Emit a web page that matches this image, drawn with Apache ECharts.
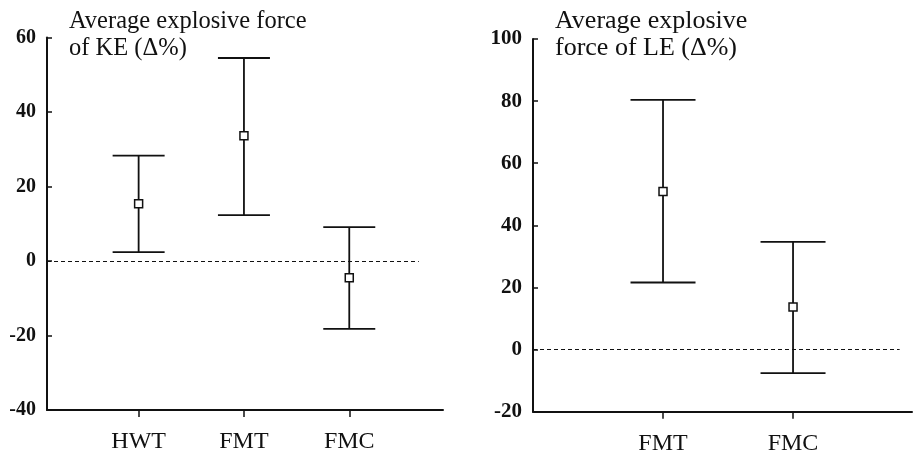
<!DOCTYPE html>
<html>
<head>
<meta charset="utf-8">
<script src="https://cdn.jsdelivr.net/npm/echarts@6/dist/echarts.min.js"></script>
<style>
  html, body { margin: 0; padding: 0; background: #fff; }
  #chart { width: 913px; height: 457px; }
</style>
</head>
<body>
<div id="chart"></div>
<script>
// Knee extensors (KE): change in average explosive force, mean with range
const groupsKE = ['HWT', 'FMT', 'FMC'];
const positionsKE = [1, 2, 3];
const meanKE = [15.4, 33.6, -4.5];
const lowKE = [2.4, 12.3, -18.2];
const highKE = [28.3, 54.5, 9.1];
const yTicksKE = [-40, -20, 0, 20, 40, 60];

// Leg extensors (LE)
const groupsLE = ['FMT', 'FMC'];
const positionsLE = [1, 2];
const meanLE = [50.9, 13.7];
const lowLE = [21.6, -7.6];
const highLE = [80.4, 34.7];
const yTicksLE = [-20, 0, 20, 40, 60, 80, 100];

const FONT = '"Liberation Serif", "DejaVu Serif", serif';
const INK = '#111';

function errorBars(positions, low, high) {
  return positions.map((p, i) => [p, low[i], high[i]]);
}
function means(positions, vals) {
  return positions.map((p, i) => [p, vals[i]]);
}

function errorBarRenderer(capHalf) {
  return function (params, api) {
    const x = api.value(0);
    const lo = api.coord([x, api.value(1)]);
    const hi = api.coord([x, api.value(2)]);
    const style = { stroke: INK, lineWidth: 1.8 };
    return {
      type: 'group',
      children: [
        { type: 'line', shape: { x1: lo[0], y1: lo[1], x2: hi[0], y2: hi[1] }, style },
        { type: 'line', shape: { x1: hi[0] - capHalf, y1: hi[1], x2: hi[0] + capHalf, y2: hi[1] }, style },
        { type: 'line', shape: { x1: lo[0] - capHalf, y1: lo[1], x2: lo[0] + capHalf, y2: lo[1] }, style }
      ]
    };
  };
}

function xAxis(gridIndex, min, max, ticks, names) {
  return {
    type: 'value', gridIndex, min, max,
    splitLine: { show: false },
    axisLine: { show: true, onZero: false, lineStyle: { color: INK, width: 2 } },
    axisTick: { show: true, inside: false, length: 7, customValues: ticks, lineStyle: { color: INK, width: 1.5 } },
    axisLabel: {
      customValues: ticks, margin: 20,
      color: INK, fontFamily: FONT, fontSize: 24,
      formatter: v => names[ticks.indexOf(v)] || ''
    }
  };
}

function yAxis(gridIndex, ticks, fontSize) {
  return {
    type: 'value', gridIndex,
    min: ticks[0], max: ticks[ticks.length - 1], interval: 20,
    splitLine: { show: false },
    axisLine: { show: true, lineStyle: { color: INK, width: 2 } },
    axisTick: { show: true, inside: true, length: 5, lineStyle: { color: INK, width: 1.5 } },
    axisLabel: { margin: 11, color: INK, fontFamily: FONT, fontSize, fontWeight: 'bold' }
  };
}

const chart = echarts.init(document.getElementById('chart'), null, { renderer: 'canvas' });

const xMinKE = 0.13, xMaxKE = 3.89, zeroEndKE = 3.66;
const xMinLE = 0, xMaxLE = 2.915, zeroEndLE = 2.82;

chart.setOption({
  animation: false,
  backgroundColor: '#fff',
  title: [
    {
      text: 'Average explosive force\nof KE (Δ%)',
      left: 69, top: 8, padding: 0,
      textStyle: { fontFamily: FONT, fontSize: 24.5, fontWeight: 'normal', color: INK, lineHeight: 27 }
    },
    {
      text: 'Average explosive\nforce of LE (Δ%)',
      left: 555, top: 8, padding: 0,
      textStyle: { fontFamily: FONT, fontSize: 26, fontWeight: 'normal', color: INK, lineHeight: 27 }
    }
  ],
  grid: [
    { left: 47, top: 37.5, width: 396, height: 372.5 },
    { left: 533, top: 39, width: 379, height: 372.7 }
  ],
  xAxis: [
    xAxis(0, xMinKE, xMaxKE, positionsKE, groupsKE),
    xAxis(1, xMinLE, xMaxLE, positionsLE, groupsLE)
  ],
  yAxis: [
    yAxis(0, yTicksKE, 20),
    yAxis(1, yTicksLE, 21)
  ],
  series: [
    {
      type: 'custom', xAxisIndex: 0, yAxisIndex: 0,
      renderItem: errorBarRenderer(26),
      data: errorBars(positionsKE, lowKE, highKE),
      markLine: {
        silent: true, symbol: 'none', label: { show: false },
        lineStyle: { color: INK, width: 1.2, type: [4, 3] },
        data: [[{ coord: [xMinKE, 0] }, { coord: [zeroEndKE, 0] }]]
      },
      z: 2
    },
    {
      type: 'scatter', xAxisIndex: 0, yAxisIndex: 0,
      symbol: 'rect', symbolSize: 8,
      itemStyle: { color: '#fff', borderColor: INK, borderWidth: 1.5, opacity: 1 },
      data: means(positionsKE, meanKE),
      z: 3
    },
    {
      type: 'custom', xAxisIndex: 1, yAxisIndex: 1,
      renderItem: errorBarRenderer(32.5),
      data: errorBars(positionsLE, lowLE, highLE),
      markLine: {
        silent: true, symbol: 'none', label: { show: false },
        lineStyle: { color: INK, width: 1.2, type: [4, 3] },
        data: [[{ coord: [xMinLE, 0] }, { coord: [zeroEndLE, 0] }]]
      },
      z: 2
    },
    {
      type: 'scatter', xAxisIndex: 1, yAxisIndex: 1,
      symbol: 'rect', symbolSize: 8,
      itemStyle: { color: '#fff', borderColor: INK, borderWidth: 1.5, opacity: 1 },
      data: means(positionsLE, meanLE),
      z: 3
    }
  ]
});
</script>
</body>
</html>
